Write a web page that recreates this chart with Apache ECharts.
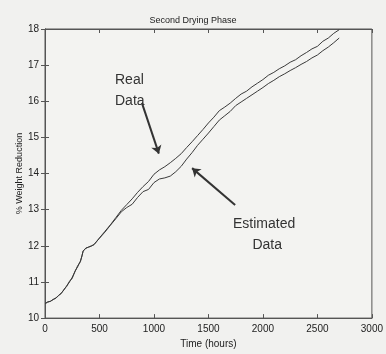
<!DOCTYPE html>
<html>
<head>
<meta charset="utf-8">
<script src="https://cdn.jsdelivr.net/npm/echarts@6/dist/echarts.min.js"></script>
<style>
  html, body { margin: 0; padding: 0; background: #f1f1ef; }
  #chart { width: 386px; height: 354px; }
</style>
</head>
<body>
<div id="chart"></div>
<script>
// time in hours
var hours = [0, 25, 50, 75, 100, 125, 150, 175, 200, 225, 250, 275, 300, 325, 340, 350, 375, 400, 425, 450, 475, 500,
  550, 600, 650, 700, 750, 800, 850, 900, 950, 1000, 1050, 1100, 1150, 1200, 1250, 1300, 1350, 1400, 1450, 1500,
  1550, 1600, 1650, 1700, 1750, 1800, 1850, 1900, 1950, 2000, 2050, 2100, 2150, 2200, 2250, 2300, 2350, 2400,
  2450, 2500, 2550, 2600, 2650, 2700]

// % weight reduction, measured
var realData = [10.40, 10.45, 10.46, 10.52, 10.55, 10.63, 10.68, 10.80, 10.88, 11.02, 11.10, 11.30, 11.42, 11.58, 11.72, 11.86, 11.93, 11.97, 11.99, 12.04, 12.12, 12.22,
  12.40, 12.58, 12.78, 12.98, 13.14, 13.30, 13.48, 13.64, 13.78, 13.98, 14.10, 14.19, 14.30, 14.42, 14.55, 14.72, 14.88, 15.05, 15.22, 15.40,
  15.56, 15.74, 15.84, 15.95, 16.08, 16.20, 16.28, 16.40, 16.50, 16.60, 16.72, 16.80, 16.90, 16.98, 17.08, 17.15, 17.26, 17.35,
  17.45, 17.52, 17.66, 17.75, 17.88, 17.98]

// % weight reduction, estimated
var estData = [10.40, 10.44, 10.47, 10.51, 10.56, 10.62, 10.70, 10.78, 10.90, 11.00, 11.13, 11.28, 11.45, 11.56, 11.74, 11.85, 11.94, 11.96, 12.00, 12.03, 12.13, 12.21,
  12.38, 12.57, 12.75, 12.94, 13.06, 13.15, 13.34, 13.50, 13.56, 13.75, 13.85, 13.88, 13.93, 14.05, 14.20, 14.40, 14.58, 14.78, 14.95, 15.12,
  15.30, 15.48, 15.60, 15.72, 15.88, 15.98, 16.08, 16.18, 16.28, 16.38, 16.49, 16.58, 16.68, 16.76, 16.85, 16.93, 17.02, 17.10,
  17.20, 17.28, 17.40, 17.50, 17.62, 17.75]

function pairs (xs, ys) {
  return xs.map(function (x, i) { return [x, ys[i]] })
}

var chart = echarts.init(document.getElementById('chart'))
var labelStyle = { color: '#222', fontSize: 10, fontFamily: 'Liberation Sans' }
var lineColor = '#3a3a3a'

chart.setOption({
  backgroundColor: '#f1f1ef',
  animation: false,
  title: {
    text: 'Second Drying Phase',
    left: 'center',
    top: 11,
    textStyle: { color: '#222', fontSize: 9, fontWeight: 'normal', fontFamily: 'Liberation Sans' }
  },
  grid: {
    left: 45,
    right: 11,
    top: 29,
    bottom: 31,
    show: true,
    borderColor: '#555',
    borderWidth: 1,
    backgroundColor: '#f3f3f1'
  },
  xAxis: [{
    type: 'value',
    min: 0,
    max: 3000,
    interval: 500,
    name: 'Time (hours)',
    nameLocation: 'middle',
    nameGap: 20,
    nameTextStyle: labelStyle,
    axisLine: { lineStyle: { color: '#555' } },
    axisTick: { inside: true, length: 4, lineStyle: { color: '#555' } },
    axisLabel: Object.assign({ margin: 6, formatter: function (v) { return String(v) } }, labelStyle),
    splitLine: { show: false }
  }, {
    type: 'value',
    position: 'top',
    min: 0,
    max: 3000,
    interval: 500,
    axisLine: { lineStyle: { color: '#555' } },
    axisTick: { inside: true, length: 4, lineStyle: { color: '#555' } },
    axisLabel: { show: false },
    splitLine: { show: false }
  }],
  yAxis: [{
    type: 'value',
    min: 10,
    max: 18,
    interval: 1,
    name: '% Weight Reduction',
    nameLocation: 'middle',
    nameGap: 21,
    nameMoveOverlap: false,
    nameTextStyle: { color: '#222', fontSize: 9, fontFamily: 'Liberation Sans' },
    axisLine: { lineStyle: { color: '#555' } },
    axisTick: { inside: true, length: 4, lineStyle: { color: '#555' } },
    axisLabel: Object.assign({ margin: 6 }, labelStyle),
    splitLine: { show: false }
  }, {
    type: 'value',
    position: 'right',
    min: 10,
    max: 18,
    interval: 1,
    axisLine: { lineStyle: { color: '#555' } },
    axisTick: { inside: true, length: 4, lineStyle: { color: '#555' } },
    axisLabel: { show: false },
    splitLine: { show: false }
  }],
  series: [{
    name: 'Real Data',
    type: 'line',
    showSymbol: false,
    lineStyle: { color: lineColor, width: 1 },
    data: pairs(hours, realData),
    markLine: {
      silent: true,
      symbol: ['none', 'arrow'],
      symbolSize: 8,
      label: { show: false },
      lineStyle: { color: '#333', width: 2, type: 'solid' },
      data: [
        [{ coord: [890, 15.95] }, { coord: [1045, 14.55] }],
        [{ coord: [1745, 13.13] }, { coord: [1350, 14.15] }]
      ]
    }
  }, {
    name: 'Estimated Data',
    type: 'line',
    showSymbol: false,
    lineStyle: { color: lineColor, width: 1 },
    data: pairs(hours, estData)
  }],
  graphic: [{
    type: 'text',
    left: 115,
    top: 70,
    style: { text: 'Real\nData', fill: '#333', font: '14px "Liberation Sans"', lineHeight: 21 }
  }, {
    type: 'text',
    left: 233,
    top: 214,
    style: { text: 'Estimated\n     Data', fill: '#333', font: '14px "Liberation Sans"', lineHeight: 21 }
  }]
})
</script>
</body>
</html>
